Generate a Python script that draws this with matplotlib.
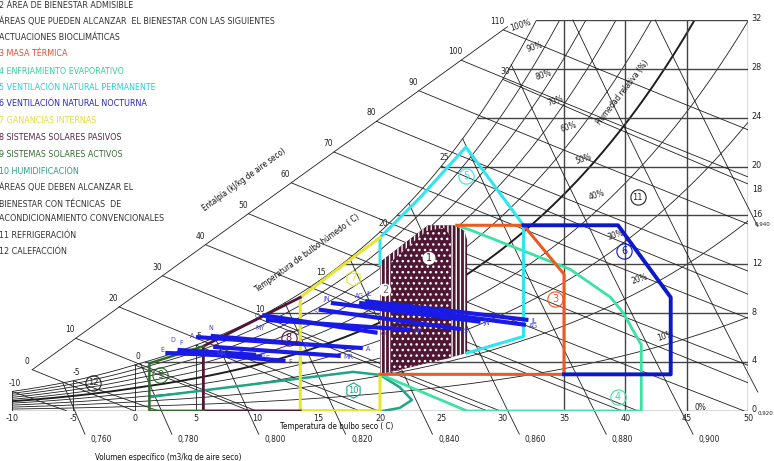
import numpy as np
import matplotlib.pyplot as plt
from matplotlib.patches import Polygon
from matplotlib import font_manager

P_ATM = 101.325

# ---------------- psychrometric grid levels ----------------
rh_levels = [10, 20, 30, 40, 50, 60, 70, 80, 90, 100]
rh_label_t = [43.3, 41.2, 39.2, 37.7, 36.6, 35.4, 34.3, 33.3, 32.6, 31.5]
rh_label_w = [6.1, 10.8, 14.4, 17.7, 20.6, 23.2, 25.4, 27.5, 29.8, 31.6]
h_levels = [0, 10, 20, 30, 40, 50, 60, 70, 80, 90, 100, 110]
twb_levels = [-10, -5, 0, 5, 10, 15, 20, 25, 30]
v_levels = [0.76, 0.78, 0.80, 0.82, 0.84, 0.86, 0.88, 0.90, 0.92, 0.94]
w_levels = [4, 8, 12, 16, 20, 24, 28, 32]
w_tick_labels = [0, 4, 8, 12, 16, 18, 20, 24, 28, 32]
t_ticks = [-10, -5, 0, 5, 10, 15, 20, 25, 30, 35, 40, 45, 50]
t_short_lines = [-10, -5, 0, 5]
t_full_lines = [35, 40, 45, 50]
# enthalpy scale line (two ends, T / W)
h_axis_t = [-8.6, 30.6]
h_axis_w = [3.2, 31.6]
# where the labels of the volume lines that leave by the right edge sit
v_edge_label = {0.92: (50.8, -0.2), 0.94: (50.55, 15.3)}

# ---------------- zones (T degC, W g/kg) ----------------
z2_t = [20.0, 20.0, 23.9, 26.3, 26.9, 27.1, 27.1, 26.0, 24.0, 22.0]
z2_w = [3.0, 12.2, 15.2, 15.2, 14.7, 14.0, 4.75, 4.45, 3.95, 3.45]
z1_t = [20.9, 20.9, 23.7, 25.2, 25.8, 25.8, 23.4]
z1_w = [3.25, 12.2, 14.7, 15.0, 14.3, 4.35, 3.85]
z3_t = [26.3, 31.7, 35.0, 35.0, 20.0]
z3_w = [15.2, 15.2, 11.2, 3.0, 3.0]
z4_t = [20.0, 27.1, 41.3, 41.3, 39.85, 38.8, 35.5, 27.4, 26.2]
z4_w = [3.0, 0.0, 0.0, 5.4, 8.0, 9.3, 11.6, 14.8, 15.2]
z5_t = [27.1, 31.7, 31.7, 27.0, 23.3, 20.0, 20.0]
z5_w = [4.75, 6.1, 15.2, 21.6, 17.5, 14.2, 12.0]
z6_t = [35.0, 43.7, 43.7, 39.4, 31.7]
z6_w = [3.0, 3.0, 9.3, 15.2, 15.2]
z7_t = [20.0, 20.0, 13.5, 13.5, 16.8, 20.0]
z7_w = [3.0, 0.0, 0.0, 9.3, 11.8, 14.2]
z8_t = [13.5, 5.6, 5.6, 13.5]
z8_w = [9.3, 5.3, 0.0, 0.0]
z9_t = [5.6, 1.2, 1.2, 5.6]
z9_w = [5.3, 3.9, 0.0, 0.0]
z10_t = [1.3, 17.8, 20.0, 21.6, 22.6, 21.6, 20.2, 1.3]
z10_w = [1.15, 3.2, 2.95, 1.95, 0.9, 0.25, 0.0, 0.0]

zone_ids = ['1', '2', '3', '4', '5', '6', '7', '8', '9', '10', '11', '12']
zone_lab_t = [24.0, 20.4, 34.3, 39.4, 27.0, 39.9, 17.8, 12.55, 2.1, 17.8, 41.0, -3.4]
zone_lab_w = [12.5, 9.9, 9.2, 1.15, 19.2, 13.1, 10.9, 6.0, 2.95, 1.7, 17.5, 2.3]

# ---------------- monthly climate lines ----------------
months = ['E', 'F', 'MR', 'A', 'MY', 'JN', 'JL', 'AG', 'S', 'O', 'N', 'D']
t_lo = [2.5, 3.5, 6.4, 5.0, 10.7, 16.0, 18.8, 18.3, 15.0, 10.4, 6.2, 3.5]
w_lo = [4.75, 4.85, 5.25, 6.05, 7.45, 8.85, 9.0, 8.85, 8.3, 7.85, 6.15, 5.0]
t_hi = [10.4, 12.3, 16.8, 18.6, 22.5, 28.2, 32.1, 31.9, 26.6, 19.8, 13.5, 9.9]
w_hi = [4.45, 4.1, 4.5, 5.15, 6.65, 7.3, 7.45, 7.05, 6.7, 6.4, 5.5, 4.6]

legend_lines = [
    '2 ÁREA DE BIENESTAR ADMISIBLE',
    'ÁREAS QUE PUEDEN ALCANZAR  EL BIENESTAR CON LAS SIGUIENTES',
    'ACTUACIONES BIOCLIMÁTICAS',
    '3 MASA TÉRMICA',
    '4 ENFRIAMIENTO EVAPORATIVO',
    '5 VENTILACIÓN NATURAL PERMANENTE',
    '6 VENTILACIÓN NATURAL NOCTURNA',
    '7 GANANCIAS INTERNAS',
    '8 SISTEMAS SOLARES PASIVOS',
    '9 SISTEMAS SOLARES ACTIVOS',
    '10 HUMIDIFICACIÓN',
    'ÁREAS QUE DEBEN ALCANZAR EL',
    'BIENESTAR CON TÉCNICAS  DE',
    'ACONDICIONAMIENTO CONVENCIONALES',
    '11 REFRIGERACIÓN',
    '12 CALEFACCIÓN',
]
legend_colors = ['#333333', '#333333', '#333333', '#e0512a', '#35d39a', '#24d0e0',
                 '#2828b8', '#e4dc3c', '#5a2a48', '#3a6a3a', '#2aa088',
                 '#333333', '#333333', '#333333', '#333333', '#333333']
legend_y = [5, 21, 37, 54, 71, 87, 104, 120, 137, 154, 171, 187, 204, 218, 235, 251]

# label offsets (points) for the month names at the cold ends
lo_offset = {'E': (-1, 2, 'right'), 'F': (1, 6, 'left'), 'MR': (2, -5, 'left'),
             'A': (-1, 1, 'right'), 'MY': (-1, -6, 'right'), 'JN': (-1, 3, 'right'),
             'JL': (1, 5, 'left'), 'AG': (-3, 5, 'left'), 'S': (-1, -2, 'right'),
             'O': (-2, -1, 'right'), 'N': (0, 6, 'center'), 'D': (-2, 7, 'right')}

MAROON = '#4f1733'
ORANGE = '#ec5a22'
MINT = '#3be3a3'
CYAN = '#2ee6ee'
BLUE_Z = '#0d18c8'
YELLOW = '#e6e62e'
DKGREEN = '#2f6b2f'
TEAL = '#1ea585'
MONTH_BLUE = '#1a1ae6'
GRID = '#1e1e1e'


def p_sat(t):
    t = np.asarray(t, dtype=float)
    water = 0.61094 * np.exp(17.625 * t / (t + 243.04))
    ice = 0.61115 * np.exp(22.452 * t / (272.55 + t))
    return np.where(t >= 0, water, ice)


def w_rh(t, rh):
    pv = rh / 100.0 * p_sat(t)
    return 622.0 * pv / (P_ATM - pv)


def t_sat(w):
    ts = np.linspace(-12, 60, 7201)
    return np.interp(w, w_rh(ts, 100), ts)


def t_enthalpy(h, w):
    return (h - 2.501 * w) / (1.006 + 0.00186 * w)


def t_volume(v, w):
    return v * P_ATM / (0.287042 * (1 + 1.6078 * np.asarray(w) / 1000.0)) - 273.15


def w_wetbulb(tw, t):
    ws = w_rh(tw, 100) / 1000.0
    if tw >= 0:
        w = ((2501 - 2.326 * tw) * ws - 1.006 * (t - tw)) / (2501 + 1.86 * t - 4.186 * tw)
    else:
        w = ((2830 - 0.24 * tw) * ws - 1.006 * (t - tw)) / (2830 + 1.86 * t - 2.1 * tw)
    return w * 1000.0


# narrow font for the CAD-like lettering, if there is one
font_kw = dict(family=['DejaVu Sans'])
for f in font_manager.fontManager.ttflist:
    if f.name == 'Liberation Sans Narrow':
        font_kw = dict(family=['Liberation Sans Narrow', 'DejaVu Sans'])
        break
else:
    for f in font_manager.fontManager.ttflist:
        if f.name == 'DejaVu Sans' and 'condensed' in str(f.stretch):
            font_kw = dict(family=['DejaVu Sans'], fontstretch='condensed')
            break

fig = plt.figure(figsize=(7.74, 4.61), dpi=100)
fig.patch.set_facecolor('white')
ax = fig.add_axes([12 / 774, 50 / 461, 736 / 774, 391 / 461])
ax.set_xlim(-10, 50)
ax.set_ylim(0, 32)
ax.axis('off')

thin = dict(color=GRID, lw=0.6, zorder=1)
small = dict(fontsize=6, color='#222222', **font_kw)

# relative humidity curves
T = np.linspace(-10, 50, 1201)
for rh in rh_levels:
    ax.plot(T, w_rh(T, rh), color=GRID, lw=1.4 if rh == 50 else 0.6, zorder=1)
for rh, lt, lw_ in zip(rh_levels, rh_label_t, rh_label_w):
    ax.text(lt, lw_, f'{rh}%', rotation=18, ha='center', va='center', **small)
ax.text(46.1, 0.3, '0%', ha='center', va='center', **small)

# constant humidity ratio and dry bulb lines
ax.plot([-10, 50], [0, 0], color='#444444', lw=1.0, zorder=1)
for w in w_levels:
    ax.plot([t_sat(w), 50], [w, w], color='#444444', lw=1.0, zorder=1)
for t in t_short_lines:
    ax.plot([t, t], [0, w_rh(t, 100)], **thin)
for t in t_full_lines:
    ax.plot([t, t], [0, 32], color='#444444', lw=1.0, zorder=1)

# enthalpy scale and lines
u = np.linspace(-0.1, 1.1, 4001)
at = h_axis_t[0] + u * (h_axis_t[1] - h_axis_t[0])
aw = h_axis_w[0] + u * (h_axis_w[1] - h_axis_w[0])
ah = 1.006 * at + aw * (2.501 + 0.00186 * at)
u0, u1 = np.interp(h_levels[0], ah, u), np.interp(111, ah, u)
ax.plot(h_axis_t[0] + np.array([u0, u1]) * (h_axis_t[1] - h_axis_t[0]),
        h_axis_w[0] + np.array([u0, u1]) * (h_axis_w[1] - h_axis_w[0]), **thin)
for h in h_levels:
    ui = np.interp(h, ah, u)
    ta = h_axis_t[0] + ui * (h_axis_t[1] - h_axis_t[0])
    wa = h_axis_w[0] + ui * (h_axis_w[1] - h_axis_w[0])
    w_end = max(0.0, (h - 1.006 * 50) / (2.501 + 0.00186 * 50))
    ws = np.linspace(wa, w_end, 60)
    ax.plot(t_enthalpy(h, ws), ws, **thin)
    ax.annotate(f'{h}', (ta, wa), xytext=(-4, 6), textcoords='offset points',
                ha='center', va='center', annotation_clip=False, **small)

# wet bulb lines
for tw in twb_levels:
    tt = np.linspace(tw, 50, 300)
    ww = w_wetbulb(tw, tt)
    keep = ww >= 0
    ax.plot(tt[keep], ww[keep], **thin)
    ax.annotate(f'{tw}', (tw, w_rh(tw, 100)), xytext=(2, 6), textcoords='offset points',
                ha='center', va='center', annotation_clip=False, **small)

# specific volume lines
wg = np.linspace(-3, 32, 3501)
for v in v_levels:
    tv = t_volume(v, wg)
    above = np.nonzero(tv <= t_sat(wg))[0]
    w_top = wg[above[0]] if len(above) else 32.0
    name = f'{v:.3f}'.replace('.', ',')
    if t_volume(v, 0.0) <= 50:
        w_bot = -1.9
        ax.annotate(name, (t_volume(v, w_bot), w_bot), xytext=(4, -4),
                    textcoords='offset points', ha='left', va='center',
                    annotation_clip=False, **small)
    else:
        w_bot = np.interp(50.8, tv[::-1], wg[::-1])
        lt, lw_ = v_edge_label[v]
        ax.text(lt, lw_, name, ha='left', va='center', clip_on=False, fontsize=4.4,
                color='#222222', **font_kw)
    ws = np.linspace(w_bot, w_top, 50)
    ax.plot(t_volume(v, ws), ws, color=GRID, lw=0.6, zorder=1, clip_on=False)

# ---------------- zones ----------------
ax.add_patch(Polygon(np.column_stack([z2_t, z2_w]), closed=True, fc=MAROON, ec='white',
                     lw=0, hatch='||||', zorder=3))
ax.add_patch(Polygon(np.column_stack([z1_t, z1_w]), closed=True, fc=MAROON, ec='white',
                     lw=0, hatch='...', zorder=3))
ax.plot(z10_t, z10_w, color=TEAL, lw=1.8, zorder=4, solid_joinstyle='round')
ax.plot(z4_t, z4_w, color=MINT, lw=2.0, zorder=4)
ax.plot(z5_t, z5_w, color=CYAN, lw=2.2, zorder=4)
ax.plot(z3_t, z3_w, color=ORANGE, lw=2.2, zorder=5)
ax.plot(z6_t, z6_w, color=BLUE_Z, lw=2.8, zorder=5)
ax.plot(z7_t, z7_w, color=YELLOW, lw=2.2, zorder=4)
ax.plot(z8_t, z8_w, color=MAROON, lw=2.0, zorder=4)
ax.plot(z9_t, z9_w, color=DKGREEN, lw=1.8, zorder=4)

# ---------------- monthly lines ----------------
mkw = dict(fontsize=5, color='#4040e8', zorder=7, annotation_clip=False, **font_kw)
for m, a, b, c, d in zip(months, t_lo, w_lo, t_hi, w_hi):
    ax.plot([a, c], [b, d], color=MONTH_BLUE, lw=3.0, zorder=6, solid_capstyle='butt')
    dx, dy, ha = lo_offset[m]
    ax.annotate(m, (a, b), xytext=(dx, dy), textcoords='offset points', ha=ha,
                va='center', **mkw)
    ax.annotate(m, (c, d), xytext=(2, -1), textcoords='offset points', ha='left',
                va='center', **mkw)

# ---------------- zone markers ----------------
zone_colors = [MAROON, '#666666', ORANGE, MINT, CYAN, BLUE_Z, YELLOW, MAROON, DKGREEN, TEAL,
               '#222222', '#222222']
for zid, zt, zw, zc in zip(zone_ids, zone_lab_t, zone_lab_w, zone_colors):
    if zid in ('1', '2'):
        ax.text(zt, zw, zid, fontsize=7, ha='center', va='center', color=zc, zorder=8,
                bbox=dict(boxstyle='circle,pad=0.15', fc='white', ec='none'))
    else:
        ax.plot(zt, zw, marker='h' if zid in ('7', '10') else 'o', ms=11, mfc='none',
                mec=zc, mew=0.8, zorder=8)
        ax.text(zt, zw, zid, fontsize=6 if len(zid) > 1 else 7, ha='center', va='center',
                color=zc, zorder=8)

# ---------------- axis texts ----------------
tick_kw = dict(fontsize=6.5, color='#222222', **font_kw)
for t in t_ticks:
    ax.text(t, -0.65, f'{t}', ha='center', va='center', **tick_kw)
for w in w_tick_labels:
    ax.text(50.3, w + 0.1, f'{w}', ha='left', va='center', **tick_kw)

title_kw = dict(fontsize=5.8, color='#111111', ha='center', va='center', **font_kw)
ax.text(16.5, -1.3, 'Temperatura de bulbo seco ( C)', **title_kw)
ax.text(2.7, -3.8, 'Volumen específico (m3/kg de aire seco)', **title_kw)
ax.text(8.9, 18.9, 'Entalpía (kJ/kg de aire seco)', rotation=36, **title_kw)
ax.text(14.1, 12.9, 'Temperatura de bulbo húmedo ( C)', rotation=36, **title_kw)
ax.text(39.8, 26.1, 'Humedad relativa (%)', rotation=52, **title_kw)

# ---------------- left legend block ----------------
legend_texts = []
for s, c, y in zip(legend_lines, legend_colors, legend_y):
    legend_texts.append(fig.text(-1 / 774, 1 - y / 461, s, fontsize=8, color=c, ha='left',
                                 va='center', **font_kw))
# fit the longest line to about the width it has in the reference
fig.canvas.draw()
renderer = fig.canvas.get_renderer()
scale = 276.0 / legend_texts[1].get_window_extent(renderer).width
for txt in legend_texts:
    txt.set_fontsize(8 * scale)

fig.savefig('out.png', dpi=100, facecolor='white')
